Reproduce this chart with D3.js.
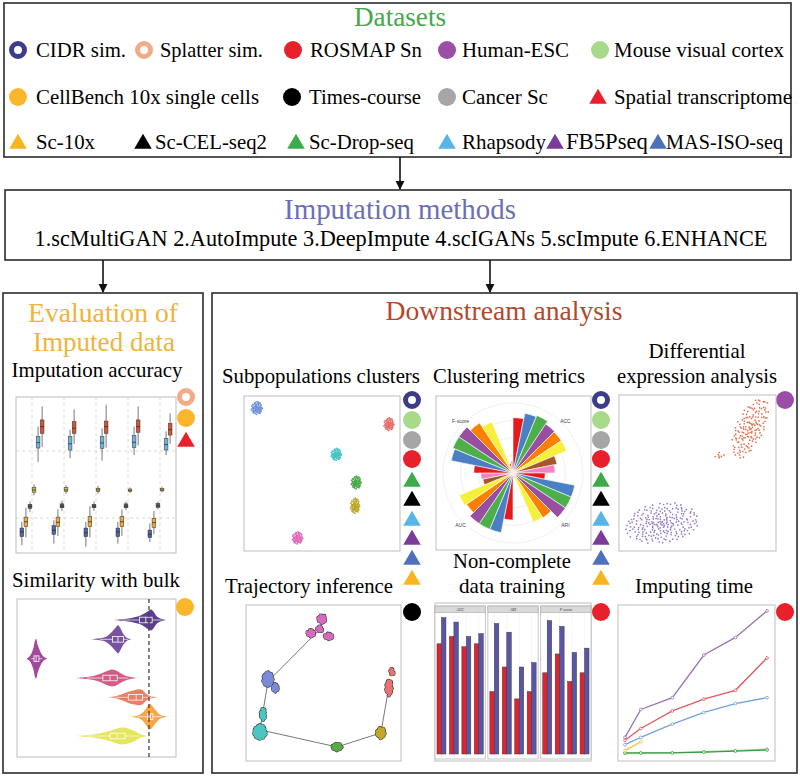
<!DOCTYPE html>
<html><head><meta charset="utf-8">
<script src="https://cdn.jsdelivr.net/npm/d3@7/dist/d3.min.js"></script>
<style>
html,body{margin:0;padding:0;background:#fff;}
svg{display:block;}
</style></head><body>
<svg id="chart" width="800" height="777"></svg>
<script>
// ================= DATA =================
const datasetLabels = ["CIDR sim.","Splatter sim.","ROSMAP Sn","Human-ESC","Mouse visual cortex",
  "CellBench 10x single cells","Times-course","Cancer Sc","Spatial transcriptome",
  "Sc-10x","Sc-CEL-seq2","Sc-Drop-seq","Rhapsody","FB5Pseq","MAS-ISO-seq"];
const datasetShapes = ["ring","ring","circle","circle","circle","circle","circle","circle","triangle",
  "triangle","triangle","triangle","triangle","triangle","triangle"];
const methodList = ["scMultiGAN","AutoImpute","DeepImpute","scIGANs","scImpute","ENHANCE"];

// Imputation accuracy: [lo, q1, median, q3, hi] per category x method
const accCategories = ["c1","c2","c3","c4","c5"];
const accMethods = ["scMultiGAN","AutoImpute","DeepImpute","scIGANs","scImpute","ENHANCE"];
const accStats = [
  [[5,10.5,13.5,16,20],[10,17,20,23,29],[26.5,28.6,30,31.2,33],[37,39,40.4,42,44],[58.5,67.3,70.8,74.6,81],[68,76.7,81,85.3,94]],
  [[6,12,14.5,17.5,21],[11,17,19.7,23,28],[27,29,30,31.5,33.5],[38,39.5,40.4,42,43.5],[60.7,66,70,74.6,79],[70,76.7,80,84.2,92]],
  [[4,10.5,13,16,20],[10,17,20,23.3,30],[27,29,30,31.2,33],[38,39.3,40.4,41.5,43],[59.2,67.1,70.5,74.6,80],[67.5,76.7,81,84.6,95]],
  [[6,10.5,13.5,16,20],[11,17,20,23.3,28],[27.5,29,30,31.5,33],[38.5,39.5,40.2,41,42],[62.8,67.5,71,75.2,81],[69,77.4,81,85.3,94]],
  [[7,9.8,12,14.7,19],[12,16.5,19.5,22.2,27],[28,29.3,30.2,31.8,33],[39,39.8,40.4,41.5,42.5],[62.8,66,69.5,73.5,78],[70,75.6,79,83.1,89.6]]
];
const accGridValues = [22.4, 65.4];

// Similarity with bulk: violin density profiles [value, density] and box stats
const simMethods = ["Raw","scMultiGAN","AutoImpute","DeepImpute","scIGANs","scImpute","ENHANCE"];
const simDensities = [
  [[0.60,0],[0.66,0.04],[0.72,0.1],[0.77,0.2],[0.80,0.32],[0.83,0.48],[0.845,0.52],[0.86,0.4],[0.88,0.18],[0.91,0.05],[0.94,0]],
  [[0.46,0],[0.52,0.05],[0.56,0.13],[0.59,0.32],[0.62,0.58],[0.635,0.7],[0.65,0.55],[0.67,0.25],[0.69,0.08],[0.72,0]],
  [[0.06,0],[0.08,0.12],[0.10,0.45],[0.115,0.95],[0.12,1.0],[0.13,0.7],[0.15,0.3],[0.17,0.08],[0.19,0]],
  [[0.36,0],[0.42,0.04],[0.48,0.1],[0.53,0.22],[0.57,0.36],[0.60,0.42],[0.63,0.35],[0.66,0.2],[0.70,0.07],[0.755,0]],
  [[0.57,0],[0.62,0.05],[0.66,0.15],[0.70,0.28],[0.74,0.36],[0.77,0.4],[0.79,0.35],[0.81,0.18],[0.84,0.06],[0.887,0]],
  [[0.71,0],[0.76,0.06],[0.79,0.2],[0.815,0.45],[0.835,0.65],[0.85,0.55],[0.875,0.3],[0.90,0.1],[0.95,0]],
  [[0.36,0],[0.43,0.04],[0.50,0.1],[0.56,0.2],[0.62,0.35],[0.66,0.42],[0.70,0.38],[0.74,0.25],[0.78,0.08],[0.82,0]]
];
const simBoxes = [
  [0.66,0.77,0.81,0.85,0.91],[0.52,0.60,0.635,0.67,0.70],[0.09,0.107,0.12,0.138,0.16],
  [0.44,0.54,0.585,0.63,0.70],[0.62,0.70,0.75,0.79,0.85],[0.76,0.82,0.84,0.855,0.91],[0.44,0.585,0.63,0.68,0.77]
];
const simBulkReference = 0.83;

// Subpopulation clusters (t-SNE): centres and spread
const tsneX = [8.3, 93, 59.2, 72, 71.3, 34.4];
const tsneY = [92.2, 81.8, 62.3, 44.2, 29.2, 8.4];
const tsneSpreadX = [3.8, 3.4, 3.6, 3.4, 3.2, 3.6];
const tsneSpreadY = [4.2, 4.2, 4.0, 4.2, 5.0, 4.0];

// Clustering metrics (rose chart)
const roseMetrics = ["ACC","ARI","AUC","F-score"];
const roseMethods = ["M1","M2","M3","M4","M5","M6","M7","M8"];
const roseACC = [0.79,0.87,0.89,0.84,0.83,0.83,0.64,0.60];
const roseARI = [0.46,0.90,0.90,0.90,0.77,0.76,0.07,0.07];
const roseAUC = [0.67,0.87,0.87,0.87,0.80,0.83,0.44,0.46];
const roseFscore = [0.56,0.90,0.93,0.93,0.86,0.79,0.14,0.17];

// Differential expression scatter: cluster centres and spread
const deX = [83.4, 64.3, 27.4];
const deY = [78.8, 61.5, 17.9];
const deSpreadA = [21, 3.5, 24];
const deSpreadB = [9, 2.2, 13];
const deAngle = [-65, -30, -8];
const deCount = [150, 7, 220];
const deGroup = ["up","up","down"];

// Trajectory inference: sub-blobs of each cluster and the trajectory path
const trajBlobCluster = [0,0,0,0,1,1,2,2,3,4,5,5];
const trajBlobX = [49,42,53.5,47.7,14.2,19,9,11,58.7,87,92.3,94.2];
const trajBlobY = [91,82,80,84.5,52.5,47,18.6,30,9,18,47,57];
const trajBlobRX = [2.6,2.6,2.9,1.9,3.2,1.9,3.9,1.6,3.2,2.6,1.9,1.3];
const trajBlobRY = [2.6,2.2,1.9,1.9,4.5,2.6,4.5,3.8,2.2,3.5,5.1,2.2];
const trajPathX = [47.7,14.2,9,58.7,87,92.3];
const trajPathY = [84.5,51,20,9,18,48];

// Non-complete data training (faceted bars)
const barMetrics = ["ACC","ARI","F-score"];
const barConditions = ["d1","d2","d3","d4"];
const barRed = [[0.76,0.81,0.74,0.76],[0.43,0.60,0.38,0.43],[0.56,0.69,0.50,0.56]];
const barBlue = [[0.94,0.91,0.81,0.83],[0.90,0.84,0.60,0.63],[0.92,0.88,0.70,0.73]];

// Imputing time
const timeCells = [1000,2000,4000,6000,8000,10000];
const timePurple = [12,31,39,68,80,98];
const timeRed = [10,18,30,38,44,66];
const timeBlue = [7,12,21,29,35,39];
const timeYellow = [3,9];
const timeGreen = [1.4,1.4,1.4,2,2.7,3.4];
const timeLightGreen = [1,1.2,1.6,2.2,3,4];

// ================= FONT DETECTION =================
function pickFont(cands, generic){
  const c = document.createElement("canvas").getContext("2d");
  const s = "Mouse visual cortex Imputation wWmMiIl 0123456789";
  for (const f of cands){
    for (const base of ["monospace","sans-serif","cursive"]){
      c.font = `40px ${base}`; const w0 = c.measureText(s).width;
      c.font = `40px '${f}', ${base}`; const w1 = c.measureText(s).width;
      if (Math.abs(w1-w0) > 0.5) return `'${f}', ${generic}`;
    }
  }
  return generic;
}
const SERIF = pickFont(["Liberation Serif","Tinos","Times New Roman","Times","DejaVu Serif","Noto Serif",
  "FreeSerif","Nimbus Roman","Nimbus Roman No9 L","TeX Gyre Termes","Georgia","Bitstream Vera Serif"], "serif");
const SANS = pickFont(["Liberation Sans","Arial","DejaVu Sans"], "sans-serif");

// ================= STYLE =================
const datasetColors = ["#3c3c8c","#f2ab86","#e8202b","#9a4ea6","#a9d98b","#fbb62b","#000000","#a6a6a6","#e8202b",
  "#f9b51f","#000000","#3dab48","#58b5e8","#7b3c99","#4e71b9"];
const svg = d3.select("#chart");
const defs = svg.append("defs");
defs.append("marker").attr("id","ah").attr("viewBox","0 0 10 10").attr("refX",9).attr("refY",5)
  .attr("markerWidth",5.5).attr("markerHeight",6).attr("orient","auto")
  .append("path").attr("d","M0,0L10,5L0,10Z").attr("fill","#111");

// text, optionally fitted to a measured reference width
function txt(x,y,s,size,fill,anchor,target){
  const t = svg.append("text").attr("x",x).attr("y",y).attr("font-size",size).attr("fill",fill||"#000")
    .style("font-family",SERIF).attr("text-anchor",anchor||"start").text(s);
  if (target){
    const w = t.node().getComputedTextLength();
    if (w > 0) t.attr("font-size", (size*target/w).toFixed(2));
  }
  return t;
}
function drawMarker(g, idx, x, y, r){
  const shape = datasetShapes[idx], col = datasetColors[idx];
  if (shape === "ring"){
    g.append("circle").attr("cx",x).attr("cy",y).attr("r",r*0.72).attr("fill","#fff")
      .attr("stroke",col).attr("stroke-width",r*0.56);
  } else if (shape === "circle"){
    g.append("circle").attr("cx",x).attr("cy",y).attr("r",r).attr("fill",col);
  } else {
    const s = r*1.95, h = s*0.866;
    g.append("path").attr("d",`M${x},${y-h*0.55}L${x+s/2},${y+h*0.45}L${x-s/2},${y+h*0.45}Z`).attr("fill",col);
  }
}
function panel(x0,y0,x1,y1){
  svg.append("rect").attr("x",x0).attr("y",y0).attr("width",x1-x0).attr("height",y1-y0)
    .attr("fill","#fff").attr("stroke","#bdbdbd").attr("stroke-width",1);
}
// deterministic low-discrepancy (Halton) layout of n glyphs inside an ellipse
function halton(i, b){ let f = 1, r = 0; while (i > 0){ f /= b; r += f*(i % b); i = Math.floor(i/b); } return r; }
function cloud(cx, cy, a, b, n, angleDeg, power){
  const pts = [], t = angleDeg*Math.PI/180;
  for (let i=0;i<n;i++){
    const r = Math.pow(halton(i+1,2), power||0.5), th = 2*Math.PI*halton(i+1,3);
    const dx = a*r*Math.cos(th), dy = b*r*Math.sin(th);
    pts.push([cx + dx*Math.cos(t) - dy*Math.sin(t), cy + dx*Math.sin(t) + dy*Math.cos(t)]);
  }
  return pts;
}

// ================= FRAMES =================
const frame = (x,y,w,h)=>svg.append("rect").attr("x",x).attr("y",y).attr("width",w).attr("height",h)
  .attr("fill","none").attr("stroke","#2b2b2b").attr("stroke-width",1.6);
frame(4,3,787,154);
frame(5,190,786,70);
frame(3,293,200,480);
frame(212,293,585,480);
const arrow = (x,y0,y1)=>svg.append("line").attr("x1",x).attr("x2",x).attr("y1",y0).attr("y2",y1)
  .attr("stroke","#111").attr("stroke-width",1.6).attr("marker-end","url(#ah)");
arrow(400,157,189);
arrow(103,260,292);
arrow(490,260,292);

// ================= DATASETS =================
txt(400,26,"Datasets",28,"#45a84a","middle",92);
const legRowY = [50,97,142];
const legRow = [0,0,0,0,0,1,1,1,1,2,2,2,2,2,2];
const legMarkX = [18,144,293,447,600, 18,292,447,598, 18,143,296,447,555,658];
const legTextX = [36,160,310,462,614, 36,309,462,614, 36,155,309,462,566,666];
const legWidth = [90,103,112,107,170, 223,112,86,178, 59,112,105,84,82,117];
const legG = svg.append("g");
datasetLabels.forEach((lab,i)=>{
  const y = legRowY[legRow[i]];
  drawMarker(legG, i, legMarkX[i], y, 9);
  txt(legTextX[i], y+7, lab, 21, "#000", "start", legWidth[i]);
});

// ================= METHODS =================
txt(400,219,"Imputation methods",28,"#6b70b6","middle",232);
txt(401,246, methodList.map((m,i)=>`${i+1}.${m}`).join(" "),19,"#000","middle",733);

// ================= LEFT PANEL =================
txt(103,322,"Evaluation of",28,"#f0b43a","middle",150);
txt(104,351,"Imputed data",28,"#f0b43a","middle",142);
txt(97,377,"Imputation accuracy",21,"#000","middle",171);
txt(96,587,"Similarity with bulk",21,"#000","middle",168);

// --- box plots
panel(16,397,176,553);
{
  const ax = d3.scaleBand().domain(accCategories).range([16,176]);
  const am = d3.scaleBand().domain(accMethods).range([-12,12]).paddingInner(0.08);
  const ay = d3.scaleLinear().domain([0,100]).range([553,397]);
  const accColors = ["#4a68ad","#f1a93a","#5b5b5b","#cdbb54","#72b4de","#d2563a"];
  const g = svg.append("g");
  accGridValues.forEach(v=>g.append("line").attr("x1",16).attr("x2",176).attr("y1",ay(v)).attr("y2",ay(v))
    .attr("stroke","#cfcfcf").attr("stroke-dasharray","3,3").attr("stroke-width",0.8));
  accCategories.forEach(c=>g.append("line").attr("y1",397).attr("y2",553)
    .attr("x1",ax(c)+ax.bandwidth()/2).attr("x2",ax(c)+ax.bandwidth()/2)
    .attr("stroke","#cfcfcf").attr("stroke-dasharray","3,3").attr("stroke-width",0.8));
  accStats.forEach((grp,gi)=>{
    grp.forEach((s,mi)=>{
      const cx = ax(accCategories[gi]) + ax.bandwidth()/2 + am(accMethods[mi]);
      const w = am.bandwidth(), mx = cx + w/2;
      g.append("line").attr("x1",mx).attr("x2",mx).attr("y1",ay(s[0])).attr("y2",ay(s[4]))
        .attr("stroke","#555").attr("stroke-width",0.8);
      g.append("rect").attr("x",cx).attr("width",w).attr("y",ay(s[3])).attr("height",ay(s[1])-ay(s[3]))
        .attr("fill",accColors[mi]).attr("stroke","#333").attr("stroke-width",0.5);
      g.append("line").attr("x1",cx).attr("x2",cx+w).attr("y1",ay(s[2])).attr("y2",ay(s[2]))
        .attr("stroke","#222").attr("stroke-width",0.7);
    });
  });
  drawMarker(svg, 1, 186, 397, 9);
  drawMarker(svg, 5, 186, 418, 9);
  drawMarker(svg, 8, 186, 440, 9);
}

// --- violins
panel(17,599,176,757);
{
  const sx = d3.scaleLinear().domain([0,1]).range([17,176]);
  const sy = d3.scalePoint().domain(simMethods).range([620,736]);
  const sd = d3.scaleLinear().domain([0,1]).range([0,20]);
  const simColors = ["#5b3e8c","#7a52a2","#a4479d","#d45b83","#ee7e63","#f5a843","#e4e65c"];
  const g = svg.append("g");
  simMethods.forEach((m,i)=>{
    const cy = sy(m);
    const area = d3.area().x(d=>sx(d[0])).y0(d=>cy-sd(d[1])).y1(d=>cy+sd(d[1])).curve(d3.curveCatmullRom);
    g.append("path").attr("d",area(simDensities[i])).attr("fill",simColors[i]);
    const b = simBoxes[i];
    g.append("line").attr("x1",sx(b[0])).attr("x2",sx(b[4])).attr("y1",cy).attr("y2",cy)
      .attr("stroke","#fff").attr("stroke-width",0.8).attr("opacity",0.85);
    g.append("rect").attr("x",sx(b[1])).attr("width",sx(b[3])-sx(b[1])).attr("y",cy-2.8).attr("height",5.6)
      .attr("fill",simColors[i]).attr("stroke","#fff").attr("stroke-width",0.8);
    g.append("line").attr("x1",sx(b[2])).attr("x2",sx(b[2])).attr("y1",cy-2.8).attr("y2",cy+2.8)
      .attr("stroke","#fff").attr("stroke-width",0.8);
  });
  g.append("line").attr("x1",sx(simBulkReference)).attr("x2",sx(simBulkReference)).attr("y1",599).attr("y2",757)
    .attr("stroke","#444").attr("stroke-width",1.3).attr("stroke-dasharray","4,3");
  drawMarker(svg, 5, 185, 607, 9);
}

// ================= RIGHT PANEL =================
txt(504,320,"Downstream analysis",28,"#b4482b","middle",237);
txt(222,383,"Subpopulations clusters",21,"#000","start",198);
txt(509,383,"Clustering metrics",21,"#000","middle",152);
txt(697,358,"Differential",21,"#000","middle",97);
txt(697,383,"expression analysis",21,"#000","middle",160);
txt(512,568,"Non-complete",21,"#000","middle",118);
txt(512,593,"data training",21,"#000","middle",106);
txt(225,593,"Trajectory inference",21,"#000","start",168);
txt(694,593,"Imputing time",21,"#000","middle",118);

// marker columns
const sideColumn = [0,4,7,2,11,10,12,13,14,9];
const sideY = [400,420,440,459,480,499,519,538,558,578];
sideColumn.forEach((idx,k)=>{ drawMarker(svg, idx, 412, sideY[k], 9); drawMarker(svg, idx, 601, sideY[k], 9); });
drawMarker(svg, 3, 785, 400, 9);
drawMarker(svg, 6, 412, 612, 9);
drawMarker(svg, 2, 601, 612, 9);
drawMarker(svg, 2, 785, 612, 9);

// --- t-SNE clusters
panel(244,396,400,551);
{
  const x = d3.scaleLinear().domain([0,100]).range([244,400]);
  const y = d3.scaleLinear().domain([0,100]).range([551,396]);
  const cols = ["#6d8ed8","#e66a6a","#3fc3c3","#44a844","#b9a323","#e267b8"];
  const g = svg.append("g");
  tsneX.forEach((cx,i)=>{
    const a = x(cx+tsneSpreadX[i]) - x(cx), b = y(tsneY[i]) - y(tsneY[i]+tsneSpreadY[i]);
    cloud(x(cx), y(tsneY[i]), a, b, 60, 0, 0.6).forEach(p=>
      g.append("circle").attr("cx",p[0]).attr("cy",p[1]).attr("r",0.9).attr("fill",cols[i]));
  });
}

// --- rose chart
panel(436,396,591,550);
{
  const cx = 513, cy = 473;
  const slots = [];
  roseMetrics.forEach(m=>roseMethods.forEach(k=>slots.push(m+"|"+k)));
  const ang = d3.scaleBand().domain(slots).range([0,2*Math.PI]);
  const r = d3.scaleLinear().domain([0,1]).range([0,70]);
  const roseCols = ["#e41a1c","#4a7fc6","#4daf4a","#984ea3","#ff7f00","#f6f03a","#a65628","#f781bf"];
  const vals = [roseACC, roseARI, roseAUC, roseFscore];
  const g = svg.append("g").attr("transform",`translate(${cx},${cy})`);
  [0.25,0.5,0.75,1].forEach(v=>g.append("circle").attr("r",r(v)).attr("fill","none").attr("stroke","#f1f1ec").attr("stroke-width",1));
  const arc = d3.arc().innerRadius(0);
  roseMetrics.forEach((m,mi)=>roseMethods.forEach((k,ki)=>{
    const a0 = ang(m+"|"+k);
    g.append("path").attr("d",arc({startAngle:a0,endAngle:a0+ang.bandwidth(),outerRadius:r(vals[mi][ki])}))
      .attr("fill",roseCols[ki]).attr("stroke","#fff").attr("stroke-width",0.6);
  }));
  roseMetrics.forEach((m,mi)=>{
    const a = (mi+0.5)*Math.PI/2, rr = r(1.06);
    g.append("text").attr("x",rr*Math.sin(a)).attr("y",-rr*Math.cos(a)+2).attr("font-size",5)
      .style("font-family",SANS).attr("fill","#444").attr("text-anchor","middle").text(m);
  });
}

// --- DE scatter
panel(619,395,776,551);
{
  const x = d3.scaleLinear().domain([0,100]).range([619,776]);
  const y = d3.scaleLinear().domain([0,100]).range([551,395]);
  const cols = {up:"#e2704f", down:"#9677c8"};
  const g = svg.append("g");
  deX.forEach((cx,i)=>{
    const a = x(cx+deSpreadA[i]) - x(cx), b = y(deY[i]) - y(deY[i]+deSpreadB[i]);
    cloud(x(cx), y(deY[i]), a, b, deCount[i], deAngle[i], 0.62).forEach(p=>
      g.append("circle").attr("cx",p[0]).attr("cy",p[1]).attr("r",0.85).attr("fill",cols[deGroup[i]]));
  });
}

// --- trajectory
panel(246,605,401,761);
{
  const x = d3.scaleLinear().domain([0,100]).range([246,401]);
  const y = d3.scaleLinear().domain([0,100]).range([761,605]);
  const cols = ["#d96ac0","#7c8bd9","#4cc7c0","#5aab48","#c6a52b","#e97272"];
  const g = svg.append("g");
  g.append("path").attr("d",d3.line().x(d=>x(d[0])).y(d=>y(d[1]))(trajPathX.map((v,i)=>[v,trajPathY[i]])))
    .attr("fill","none").attr("stroke","#555").attr("stroke-width",0.8);
  const blobs = trajBlobX.map((bx,i)=>{
    const a = x(bx+trajBlobRX[i]) - x(bx), b = y(trajBlobY[i]) - y(trajBlobY[i]+trajBlobRY[i]);
    const n = Math.max(12, Math.round(a*b*1.6));
    return {pts: cloud(x(bx), y(trajBlobY[i]), a, b, n, 0, 0.5), c: cols[trajBlobCluster[i]]};
  });
  blobs.forEach(bl=>bl.pts.forEach(p=>g.append("circle").attr("cx",p[0]).attr("cy",p[1]).attr("r",2.1).attr("fill","#3a3a3a")));
  blobs.forEach(bl=>bl.pts.forEach(p=>g.append("circle").attr("cx",p[0]).attr("cy",p[1]).attr("r",1.5).attr("fill",bl.c)));
}

// --- facet bars
panel(435,603,591,761);
{
  const fx = d3.scaleBand().domain(barMetrics).range([435,591]).paddingInner(0.05);
  const cx = d3.scaleBand().domain(barConditions).range([0,fx.bandwidth()]).paddingInner(0.28).paddingOuter(0.16);
  const sub = d3.scaleBand().domain(["incomplete","complete"]).range([0,cx.bandwidth()]);
  const y = d3.scaleLinear().domain([0,1]).range([754,609]);
  const g = svg.append("g");
  barMetrics.forEach((m,mi)=>{
    const x0 = fx(m);
    g.append("rect").attr("x",x0).attr("y",606).attr("width",fx.bandwidth()).attr("height",153)
      .attr("fill","#fff").attr("stroke","#b0b0b0").attr("stroke-width",0.7);
    barConditions.forEach(c=>{
      const xa = x0 + cx(c) + cx.bandwidth()/2;
      g.append("line").attr("x1",xa).attr("x2",xa).attr("y1",612).attr("y2",759).attr("stroke","#f0f0f0").attr("stroke-width",0.6);
    });
    g.append("rect").attr("x",x0).attr("y",606).attr("width",fx.bandwidth()).attr("height",6.5)
      .attr("fill","#d9d9d9").attr("stroke","#a8a8a8").attr("stroke-width",0.6);
    g.append("text").attr("x",x0+fx.bandwidth()/2).attr("y",611).attr("font-size",4).attr("font-style","italic")
      .style("font-family",SERIF).attr("text-anchor","middle").attr("fill","#333").text(m);
    barConditions.forEach((c,ci)=>{
      [["incomplete",barRed[mi][ci],"#e2222e"],["complete",barBlue[mi][ci],"#5a56a6"]].forEach(d=>{
        g.append("rect").attr("x",x0+cx(c)+sub(d[0])).attr("width",sub.bandwidth()).attr("y",y(d[1]))
          .attr("height",y(0)-y(d[1])).attr("fill",d[2]).attr("stroke","#3a3a3a").attr("stroke-width",0.5);
      });
    });
  });
}

// --- imputing time
panel(618,605,775,761);
{
  const x = d3.scaleLinear().domain([1000,10000]).range([625,767]);
  const y = d3.scaleLinear().domain([0,100]).range([755,608]);
  const series = [[timeLightGreen,"#9ad49a"],[timeGreen,"#3f9b3f"],[timeYellow,"#edc23e"],[timeBlue,"#73a2da"],[timeRed,"#e3585c"],[timePurple,"#9a72b8"]];
  const g = svg.append("g");
  const line = d3.line().x((d,i)=>x(timeCells[i])).y(d=>y(d));
  series.forEach(s=>{
    g.append("path").attr("d",line(s[0])).attr("fill","none").attr("stroke",s[1]).attr("stroke-width",1.3);
    s[0].forEach((v,i)=>g.append("circle").attr("cx",x(timeCells[i])).attr("cy",y(v)).attr("r",1.4)
      .attr("fill","#fff").attr("stroke",s[1]).attr("stroke-width",0.8));
  });
}
</script>
</body></html>
